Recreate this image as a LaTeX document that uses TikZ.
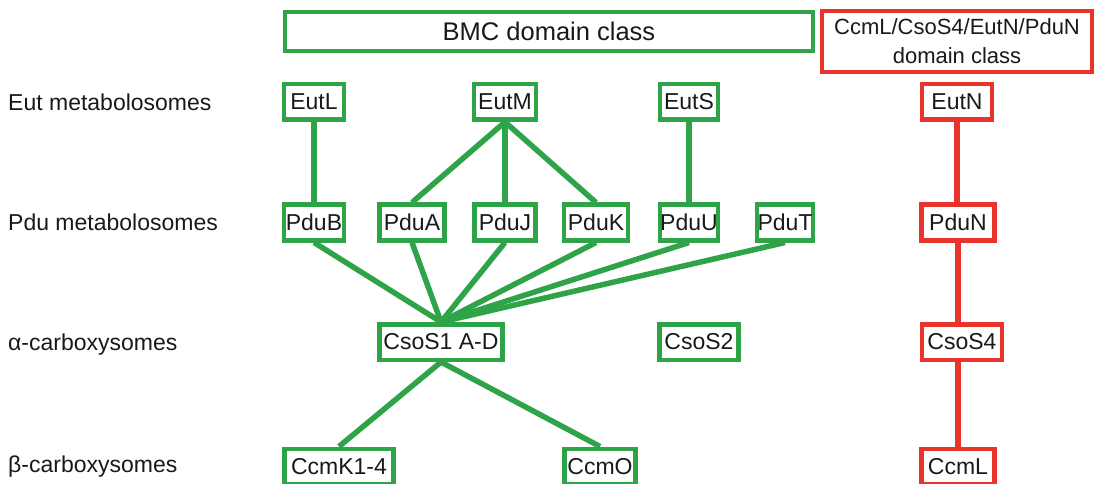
\documentclass[tikz,border=0pt]{standalone}
\usepackage{fontspec}
\setmainfont{Liberation Sans}
\definecolor{bmcgreen}{RGB}{46,163,72}
\definecolor{cmred}{RGB}{232,52,44}
\begin{document}
\begin{tikzpicture}[x=1pt,y=-1pt,
  every node/.style={font=\fontsize{23}{26}\selectfont, text=black!90},
  gbox/.style={draw=bmcgreen, line width=4.5pt, fill=white, minimum height=35.5pt, inner sep=0pt},
  rbox/.style={draw=cmred, line width=4.5pt, fill=white, minimum height=35.5pt, inner sep=0pt},
  glink/.style={draw=bmcgreen, line width=5.5pt},
  rlink/.style={draw=cmred, line width=5.5pt},
  rowlabel/.style={anchor=west, inner sep=0pt}]
\useasboundingbox (0,0) rectangle (1101,484);

% header classes
\node[draw=bmcgreen, line width=4.5pt, minimum width=528pt, minimum height=39pt, inner sep=0pt,
      font=\fontsize{25.5}{28}\selectfont] (bmc) at (549,31.5) {BMC domain class};
\node[draw=cmred, line width=4.5pt, minimum width=270pt, minimum height=61pt, inner sep=0pt, align=center,
      font=\fontsize{22}{29}\selectfont] (ccm) at (957,41.5) {CcmL/CsoS4/EutN/PduN\\domain class};

% row labels
\node[rowlabel] (rEut) at (8,102) {Eut metabolosomes};
\node[rowlabel] (rPdu) at (8,222) {Pdu metabolosomes};
\node[rowlabel] (rAlpha) at (8,345) {α-carboxysomes};
\node[rowlabel] (rBeta) at (8,467) {β-carboxysomes};

% Eut shell proteins
\node[gbox, minimum width=60pt] (EutL) at (314,102) {EutL};
\node[gbox, minimum width=62pt] (EutM) at (505,102) {EutM};
\node[gbox, minimum width=58pt] (EutS) at (689,102) {EutS};
\node[rbox, minimum width=70pt] (EutN) at (957,102) {EutN};

% Pdu shell proteins
\node[gbox, minimum width=60pt] (PduB) at (314,222.5) {PduB};
\node[gbox, minimum width=65pt] (PduA) at (412,222.5) {PduA};
\node[gbox, minimum width=61pt] (PduJ) at (505,222.5) {PduJ};
\node[gbox, minimum width=64pt] (PduK) at (596,222.5) {PduK};
\node[gbox, minimum width=58pt] (PduU) at (689,222.5) {PduU};
\node[gbox, minimum width=56pt] (PduT) at (785,222.5) {PduT};
\node[rbox, minimum width=73pt] (PduN) at (958,222.5) {PduN};

% alpha-carboxysome shell proteins
\node[gbox, minimum width=123pt] (CsoS1) at (441,342) {CsoS1 A-D};
\node[gbox, minimum width=79pt] (CsoS2) at (699,342) {CsoS2};
\node[rbox, minimum width=80pt] (CsoS4) at (962,342) {CsoS4};

% beta-carboxysome shell proteins
\node[gbox, minimum width=109pt] (CcmK) at (339,466.5) {CcmK1-4};
\node[gbox, minimum width=71pt] (CcmO) at (600,466.5) {CcmO};
\node[rbox, minimum width=73pt] (CcmL) at (958,466.5) {CcmL};

% BMC domain links
\path[glink] (EutL.south) -- (PduB.north);
\path[glink] (EutM.south) -- (PduA.north);
\path[glink] (EutM.south) -- (PduJ.north);
\path[glink] (EutM.south) -- (PduK.north);
\path[glink] (EutS.south) -- (PduU.north);
\path[glink] (PduB.south) -- (CsoS1.north);
\path[glink] (PduA.south) -- (CsoS1.north);
\path[glink] (PduJ.south) -- (CsoS1.north);
\path[glink] (PduK.south) -- (CsoS1.north);
\path[glink] (PduU.south) -- (CsoS1.north);
\path[glink] (PduT.south) -- (CsoS1.north);
\path[glink] (CsoS1.south) -- (CcmK.north);
\path[glink] (CsoS1.south) -- (CcmO.north);
% CcmL/CsoS4/EutN/PduN links
\path[rlink] (EutN.south) -- (EutN.south |- PduN.north);
\path[rlink] (PduN.south) -- (PduN.south |- CsoS4.north);
\path[rlink] (PduN.south |- CsoS4.south) -- (CcmL.north);
\end{tikzpicture}
\end{document}
